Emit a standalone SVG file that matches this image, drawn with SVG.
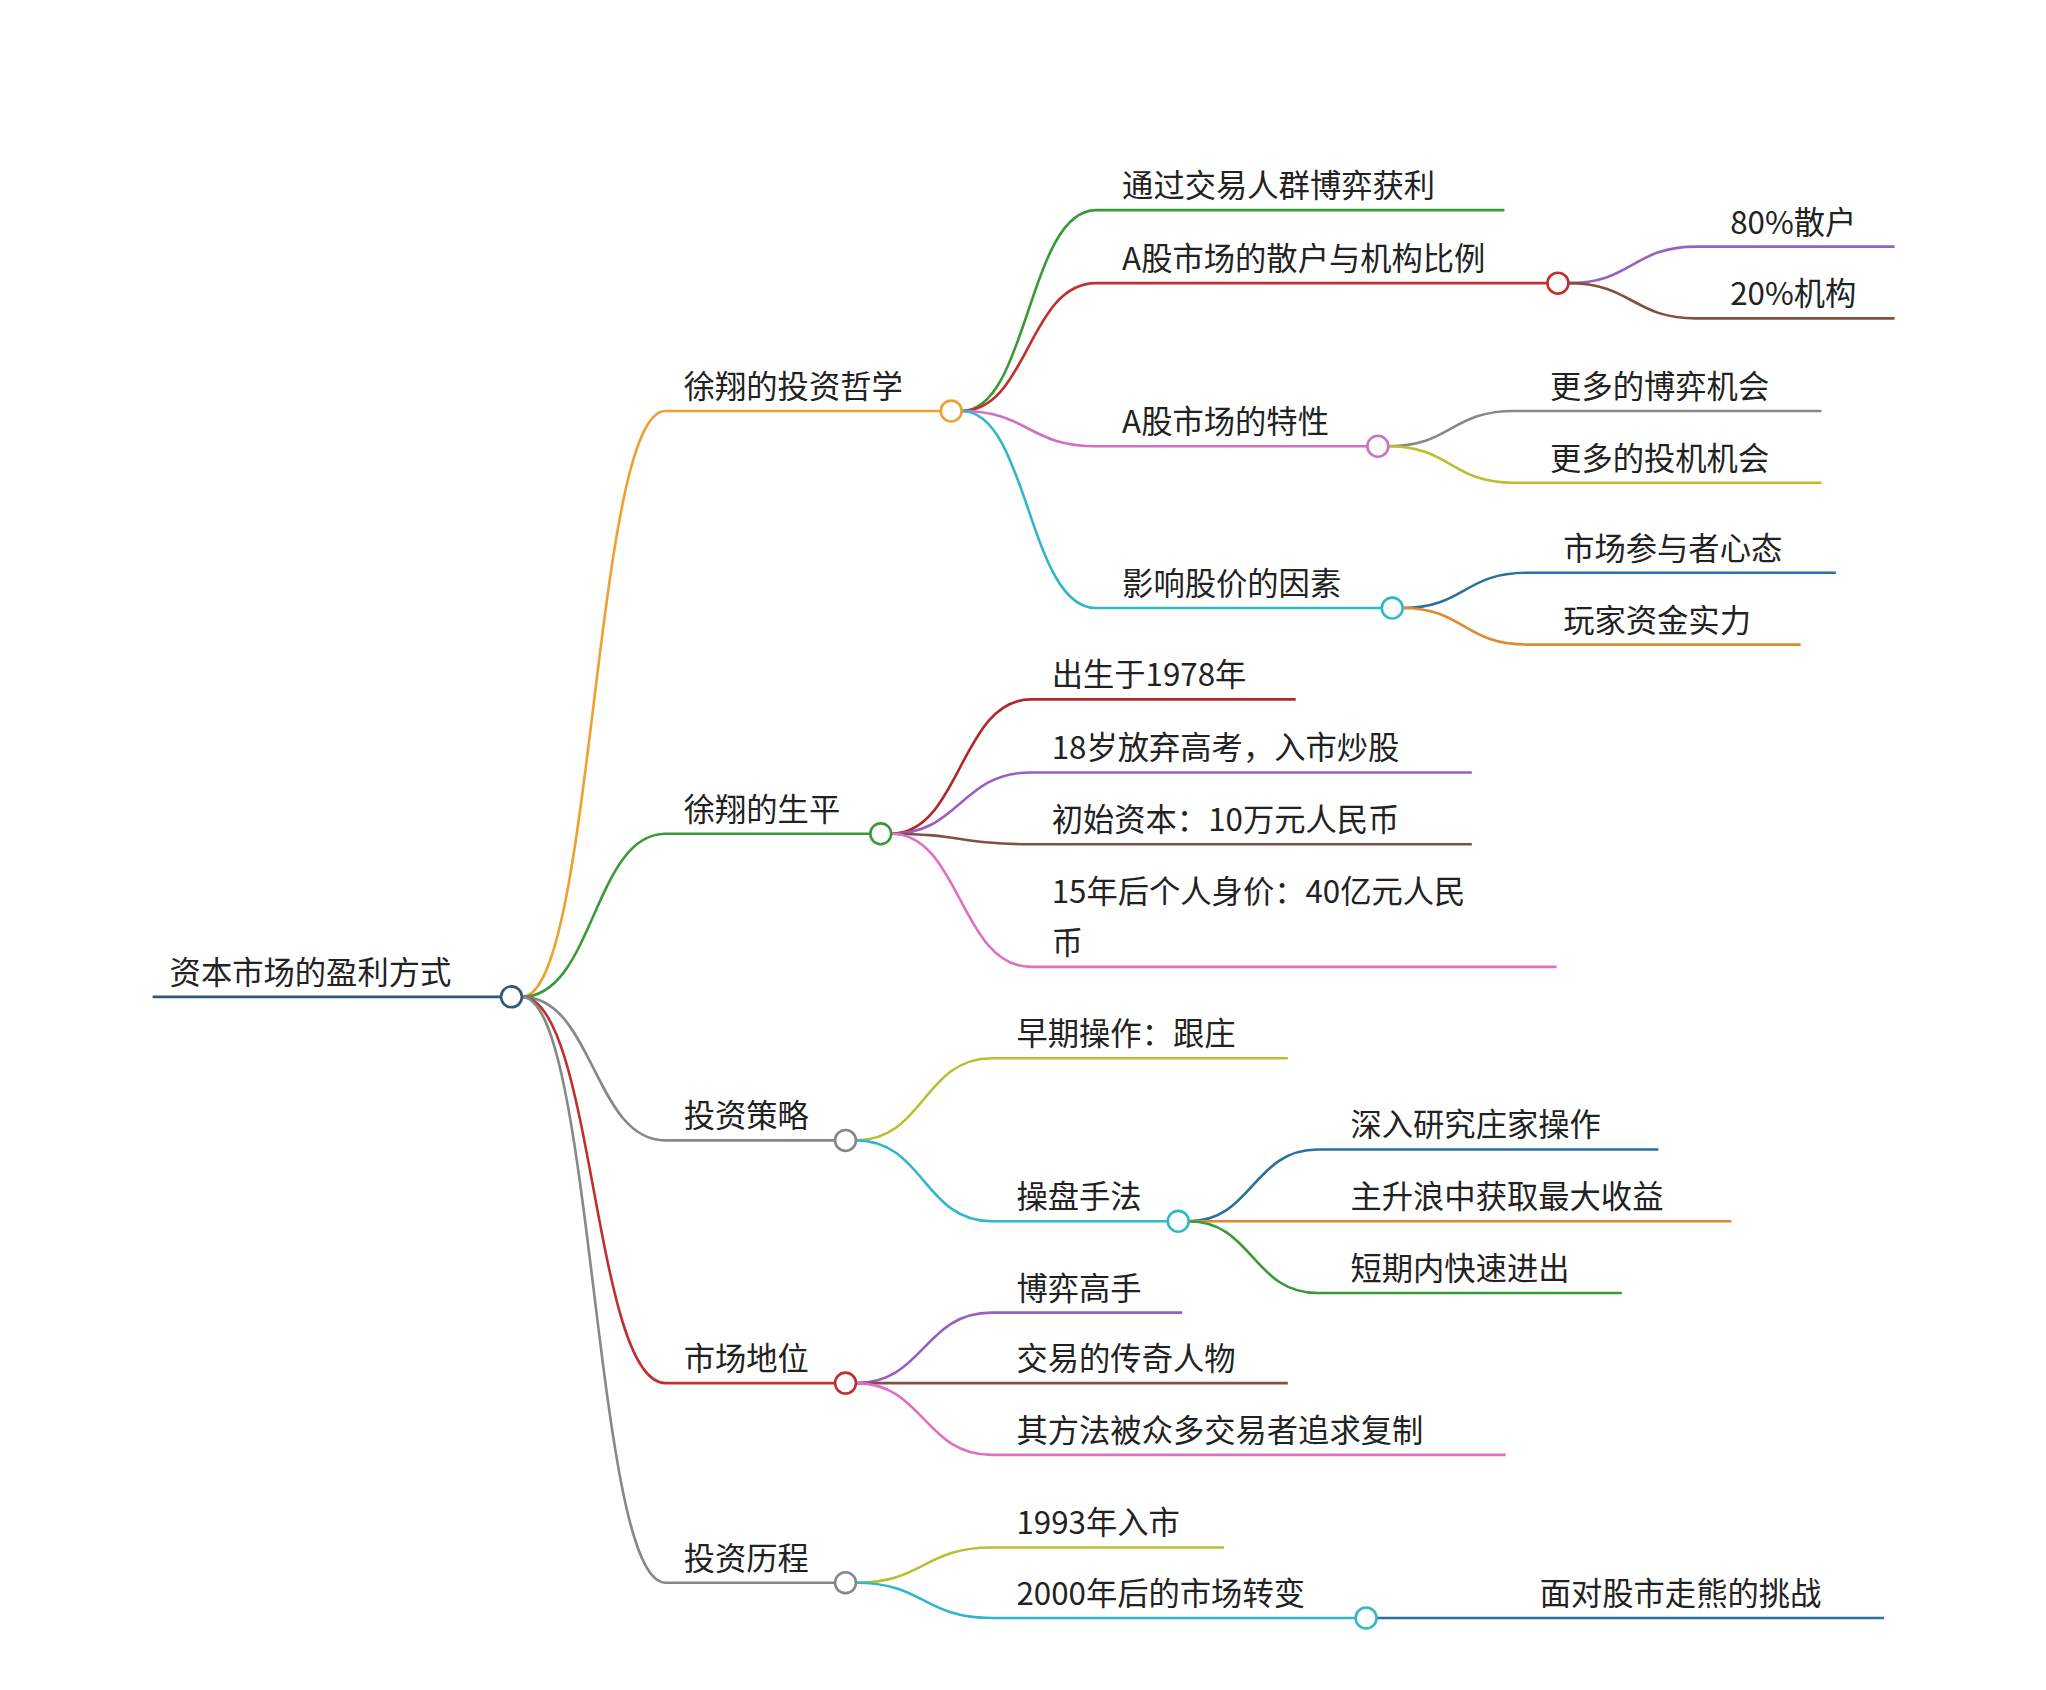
<svg xmlns="http://www.w3.org/2000/svg" width="2046" height="1690" viewBox="0 0 2046 1690">
<style>
text{font-family:"Noto Sans CJK SC","Noto Sans",sans-serif;font-size:24px;fill:#222}
path{fill:none;stroke-width:2}
circle{fill:#fff;stroke-width:2}
</style>
<rect width="2046" height="1690" fill="#fff"/>
<g transform="scale(1.3048)">
<g id="connectors">
<path d="M117,764 H384" stroke="#2e5a7a"/>
<path d="M400,764 C455,764 455,315 510,315 H721" stroke="#f0a030"/>
<path d="M400,764 C455,764 455,639 510,639 H667" stroke="#3a9a3a"/>
<path d="M400,764 C455,764 455,874 510,874 H640" stroke="#888"/>
<path d="M400,764 C455,764 455,1060 510,1060 H640" stroke="#c03030"/>
<path d="M400,764 C455,764 455,1213 510,1213 H640" stroke="#888"/>
<path d="M737,315 C788,315 788,161 840,161 H1153" stroke="#3a9a3a"/>
<path d="M737,315 C788,315 788,217 840,217 H1186" stroke="#c03030"/>
<path d="M737,315 C788,315 788,342 840,342 H1048" stroke="#d070c0"/>
<path d="M737,315 C788,315 788,466 840,466 H1059" stroke="#30b8c8"/>
<path d="M1202,217 C1251,217 1251,189 1300,189 H1452" stroke="#9a60c0"/>
<path d="M1202,217 C1251,217 1251,244 1300,244 H1452" stroke="#805040"/>
<path d="M1064,342 C1112,342 1112,315 1160,315 H1396" stroke="#888"/>
<path d="M1064,342 C1112,342 1112,370 1160,370 H1396" stroke="#b8c030"/>
<path d="M1075,466 C1122,466 1122,439 1170,439 H1407" stroke="#2a70a0"/>
<path d="M1075,466 C1122,466 1122,494 1170,494 H1380" stroke="#e08a30"/>
<path d="M683,639 C736,639 736,536 790,536 H993" stroke="#b02828"/>
<path d="M683,639 C736,639 736,592 790,592 H1128" stroke="#9a60c0"/>
<path d="M683,639 C736,639 736,647 790,647 H1128" stroke="#805040"/>
<path d="M683,639 C736,639 736,741 790,741 H1193" stroke="#e070c0"/>
<path d="M656,874 C708,874 708,811 760,811 H987" stroke="#b8c030"/>
<path d="M656,874 C708,874 708,936 760,936 H895" stroke="#30b8c8"/>
<path d="M911,936 C960,936 960,881 1010,881 H1271" stroke="#2a70a0"/>
<path d="M911,936 H1327" stroke="#e08a30"/>
<path d="M911,936 C960,936 960,991 1010,991 H1243" stroke="#3a9a3a"/>
<path d="M656,1060 C708,1060 708,1006 760,1006 H906" stroke="#9a60c0"/>
<path d="M656,1060 H987" stroke="#805040"/>
<path d="M656,1060 C708,1060 708,1115 760,1115 H1154" stroke="#e070c0"/>
<path d="M656,1213 C708,1213 708,1186 760,1186 H938" stroke="#b8c030"/>
<path d="M656,1213 C708,1213 708,1240 760,1240 H1039" stroke="#30b8c8"/>
<path d="M1055,1240 H1444" stroke="#2a70a0"/>
</g>
<g id="root"><text x="130" y="754">资本市场的盈利方式</text><circle cx="392" cy="764" r="8" stroke="#2e5a7a"/></g>
<g id="n1"><text x="524" y="305">徐翔的投资哲学</text><circle cx="729" cy="315" r="8" stroke="#f0a030"/></g>
<g id="n2"><text x="524" y="629">徐翔的生平</text><circle cx="675" cy="639" r="8" stroke="#3a9a3a"/></g>
<g id="n3"><text x="524" y="864">投资策略</text><circle cx="648" cy="874" r="8" stroke="#888"/></g>
<g id="n4"><text x="524" y="1050">市场地位</text><circle cx="648" cy="1060" r="8" stroke="#c03030"/></g>
<g id="n5"><text x="524" y="1203">投资历程</text><circle cx="648" cy="1213" r="8" stroke="#888"/></g>
<g id="n11"><text x="860" y="151">通过交易人群博弈获利</text></g>
<g id="n12"><text x="860" y="207">A股市场的散户与机构比例</text><circle cx="1194" cy="217" r="8" stroke="#c03030"/></g>
<g id="n121"><text x="1326" y="179">80%散户</text></g>
<g id="n122"><text x="1326" y="234">20%机构</text></g>
<g id="n13"><text x="860" y="332">A股市场的特性</text><circle cx="1056" cy="342" r="8" stroke="#d070c0"/></g>
<g id="n131"><text x="1188" y="305">更多的博弈机会</text></g>
<g id="n132"><text x="1188" y="360">更多的投机机会</text></g>
<g id="n14"><text x="860" y="456">影响股价的因素</text><circle cx="1067" cy="466" r="8" stroke="#30b8c8"/></g>
<g id="n141"><text x="1198" y="429">市场参与者心态</text></g>
<g id="n142"><text x="1198" y="484">玩家资金实力</text></g>
<g id="n21"><text x="806" y="526">出生于1978年</text></g>
<g id="n22"><text x="806" y="582">18岁放弃高考，入市炒股</text></g>
<g id="n23"><text x="806" y="637">初始资本：10万元人民币</text></g>
<g id="n24"><text x="806" y="692">15年后个人身价：40亿元人民</text><text x="806" y="731">币</text></g>
<g id="n31"><text x="779" y="801">早期操作：跟庄</text></g>
<g id="n32"><text x="779" y="926">操盘手法</text><circle cx="903" cy="936" r="8" stroke="#30b8c8"/></g>
<g id="n321"><text x="1035" y="871">深入研究庄家操作</text></g>
<g id="n322"><text x="1035" y="926">主升浪中获取最大收益</text></g>
<g id="n323"><text x="1035" y="981">短期内快速进出</text></g>
<g id="n41"><text x="779" y="996">博弈高手</text></g>
<g id="n42"><text x="779" y="1050">交易的传奇人物</text></g>
<g id="n43"><text x="779" y="1105">其方法被众多交易者追求复制</text></g>
<g id="n51"><text x="779" y="1176">1993年入市</text></g>
<g id="n52"><text x="779" y="1230">2000年后的市场转变</text><circle cx="1047" cy="1240" r="8" stroke="#30b8c8"/></g>
<g id="n521"><text x="1180" y="1230">面对股市走熊的挑战</text></g>
</g>
</svg>
